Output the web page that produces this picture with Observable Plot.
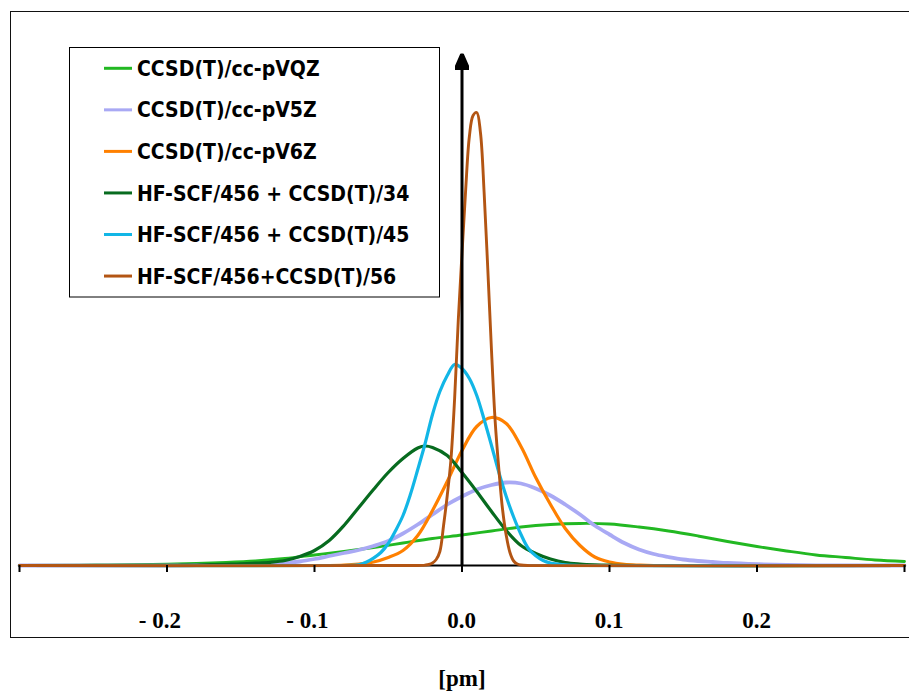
<!DOCTYPE html>
<html>
<head>
<meta charset="utf-8">
<script src="https://cdn.jsdelivr.net/npm/d3@7"></script>
<script src="https://cdn.jsdelivr.net/npm/@observablehq/plot@0.6"></script>
<style>
  html, body { margin: 0; padding: 0; background: #fff; overflow: hidden; }
  #wrap { position: relative; width: 909px; height: 691px; overflow: hidden; }
  #chart svg { display: block; }
  #frame { position: absolute; left: 10px; top: 11px; width: 940px; height: 627px; border: 1.5px solid #111; box-sizing: border-box; pointer-events: none; }
  #legend { position: absolute; left: 0; top: 0; pointer-events: none; }
</style>
</head>
<body>
<div id="wrap">
  <div id="chart"></div>
  <div id="frame"></div>
  <svg id="legend" width="909" height="691"></svg>
</div>
<script>
// ---- data (y in arbitrary intensity units) ----
const seriesNames = [
  "CCSD(T)/cc-pVQZ",
  "CCSD(T)/cc-pV5Z",
  "CCSD(T)/cc-pV6Z",
  "HF-SCF/456 + CCSD(T)/34",
  "HF-SCF/456 + CCSD(T)/45",
  "HF-SCF/456+CCSD(T)/56"
];
const seriesColors = ["#22b822", "#a9a9f4", "#ff8000", "#076b1f", "#12b6e6", "#b35513"];
const seriesWidths = [2.8, 3.8, 3.2, 3.2, 3.2, 2.9];

const xTicks = [-0.3, -0.2, -0.1, 0, 0.1, 0.2, 0.3];
const xLabels = [-0.2, -0.1, 0, 0.1, 0.2];
const axisTitle = "[pm]";
const yArrowTop = 512;

const vqzX = [-0.30,-0.28,-0.26,-0.24,-0.22,-0.20,-0.18,-0.16,-0.14,-0.12,-0.10,-0.08,-0.06,-0.04,-0.02,0,
              0.02,0.04,0.06,0.08,0.10,0.12,0.14,0.16,0.18,0.20,0.22,0.24,0.26,0.28,0.30];
const vqzY = [0,0.1,0.2,0.4,0.8,1.3,2,3,4.5,7,10.5,14,18,22.5,27,30.5,
              34.5,38.5,41,42,41.5,38.5,34.5,29.5,24,19,14.5,10.5,8,5.5,4];

const v5zX = [-0.30,-0.20,-0.18,-0.16,-0.15,-0.14,-0.13,-0.12,-0.11,-0.10,-0.09,-0.08,-0.07,-0.06,-0.05,-0.04,-0.03,-0.02,-0.01,0,
              0.01,0.02,0.03,0.04,0.05,0.06,0.07,0.08,0.09,0.10,0.11,0.12,0.13,0.14,0.15,0.16,0.17,0.18,0.20,0.22,0.24,0.26,0.30];
const v5zY = [0,0,0.3,0.5,0.6,0.9,1.5,2.4,4,6.5,9.5,12.5,15.5,19.5,24.5,32,41,51,61,69,
              76,80.5,83,82,77,70,61,51,40,31,22.5,16,11.5,8.5,6,4.5,3.5,2.5,1.3,0.6,0.2,0,0];

const v6zX = [-0.30,-0.09,-0.08,-0.07,-0.06,-0.05,-0.04,-0.03,-0.02,-0.01,0,
              0.01,0.02,0.03,0.04,0.05,0.06,0.07,0.08,0.09,0.10,0.11,0.12,0.13,0.30];
const v6zY = [0,0,0.4,1.5,3.5,8,15,30,55,84,115,
              139,148,142,119,88,61,37,20,8.5,3.5,1.2,0.4,0,0];

const hf34X = [-0.30,-0.20,-0.19,-0.18,-0.17,-0.16,-0.15,-0.14,-0.13,-0.12,-0.11,-0.10,-0.09,-0.08,-0.07,-0.06,-0.05,-0.04,-0.03,-0.025,-0.02,-0.01,0,
               0.01,0.02,0.03,0.04,0.05,0.06,0.07,0.08,0.09,0.10,0.12,0.30];
const hf34Y = [0,0.2,0.3,0.5,0.8,1.2,1.6,2.3,3.2,5,9,15,25,40,58,76,93,107,117.5,119.5,118,110,93,
               74,54,35,20,12,6.5,3,1.5,0.7,0.3,0,0];

const hf45X = [-0.30,-0.08,-0.075,-0.07,-0.065,-0.06,-0.055,-0.05,-0.045,-0.04,-0.035,-0.03,-0.025,-0.02,-0.015,-0.01,-0.005,0,
               0.005,0.01,0.015,0.02,0.025,0.03,0.035,0.04,0.045,0.05,0.055,0.06,0.065,0.07,0.08,0.30];
const hf45Y = [0,0,0.2,0.8,3.2,7.4,13,22,35,50,71,96,122,151,174,190,201,197,
               187,170,146,120,93,69,48.5,31,17,9.7,5,2.5,1.4,0.6,0,0];

const hf56X = [-0.30,-0.030,-0.0275,-0.025,-0.0225,-0.020,-0.0175,-0.015,-0.0125,-0.010,-0.0075,-0.005,-0.0025,0,
               0.0025,0.005,0.0075,0.010,0.0125,0.015,0.0175,0.020,0.0225,0.025,0.0275,0.030,0.0325,0.035,0.0375,0.040,0.045,0.30];
const hf56Y = [0,0,0.1,0.4,1,2.5,6,14,40,70,106,167,246,312,
               376,429,450,453,433,373,296,215,144,96,56,30,13,4.5,1.5,0.5,0,0];

const seriesX = [vqzX, v5zX, v6zX, hf34X, hf45X, hf56X];
const seriesY = [vqzY, v5zY, v6zY, hf34Y, hf45Y, hf56Y];

const rows = seriesNames.flatMap((name, i) =>
  seriesX[i].map((x, j) => ({series: name, idx: i, x, y: seriesY[i][j]})));

const fmtTick = d => (d < 0 ? "- " + (-d).toFixed(1) : d.toFixed(1));
const serif = "'Liberation Serif', 'Times New Roman', serif";

function arrowMarker(color) {
  const m = d3.create("svg:marker")
    .attr("viewBox", "0 -7 16 14")
    .attr("refX", 16).attr("refY", 0)
    .attr("markerWidth", 16).attr("markerHeight", 14)
    .attr("markerUnits", "userSpaceOnUse")
    .attr("orient", "auto");
  m.append("path").attr("d", "M0,-7L16,0L0,7Z").attr("fill", color || "#000");
  return m.node();
}

const chart = Plot.plot({
  width: 909,
  height: 691,
  marginLeft: 19,
  marginRight: 5,
  marginTop: 53,
  marginBottom: 126,
  style: {background: "transparent", overflow: "visible"},
  x: {domain: [-0.3, 0.3], label: null},
  y: {domain: [0, yArrowTop], axis: null},
  marks: [
    Plot.ruleY([0], {stroke: "#000", strokeWidth: 2}),
    ...seriesNames.map((name, i) =>
      Plot.line(rows.filter(d => d.idx === i), {
        x: "x", y: "y", stroke: seriesColors[i], strokeWidth: seriesWidths[i],
        curve: "catmull-rom", strokeLinejoin: "round", strokeLinecap: "round"
      })),
    Plot.axisX({ticks: xTicks, tickSize: 7, tickFormat: () => "", label: null, stroke: "#000", strokeWidth: 2}),
    Plot.axisX({ticks: xLabels, tickSize: 0, tickPadding: 46, tickFormat: fmtTick, label: null,
      textAnchor: "end", dx: 14, fontSize: 23, fontWeight: "bold", fontFamily: serif, fill: "#000"}),
    Plot.text([axisTitle], {frameAnchor: "bottom", dy: 120, lineAnchor: "bottom",
      fontSize: 23, fontWeight: "bold", fontFamily: serif, fill: "#000"}),
    Plot.link([{x1: 0, y1: 0, x2: 0, y2: yArrowTop}], {
      x1: "x1", y1: "y1", x2: "x2", y2: "y2", stroke: "#000", strokeWidth: 3, markerEnd: arrowMarker
    })
  ]
});
document.getElementById("chart").appendChild(chart);

// ---- legend box inside the plotting area ----
const lg = d3.select("#legend");
lg.append("rect").attr("x", 69.5).attr("y", 47.5).attr("width", 370).attr("height", 249.5)
  .attr("fill", "#fff").attr("stroke", "#000").attr("stroke-width", 1);
seriesNames.forEach((name, i) => {
  const cy = 68.3 + i * 41.55;
  lg.append("line").attr("x1", 104).attr("x2", 132).attr("y1", cy).attr("y2", cy)
    .attr("stroke", seriesColors[i]).attr("stroke-width", 3);
  lg.append("text").attr("x", 137).attr("y", cy).attr("dy", "0.36em")
    .attr("font-family", "'DejaVu Sans Condensed', 'Noto Sans', sans-serif")
    .attr("font-weight", "bold").attr("font-size", 21).attr("fill", "#000")
    .text(name);
});
</script>
</body>
</html>
